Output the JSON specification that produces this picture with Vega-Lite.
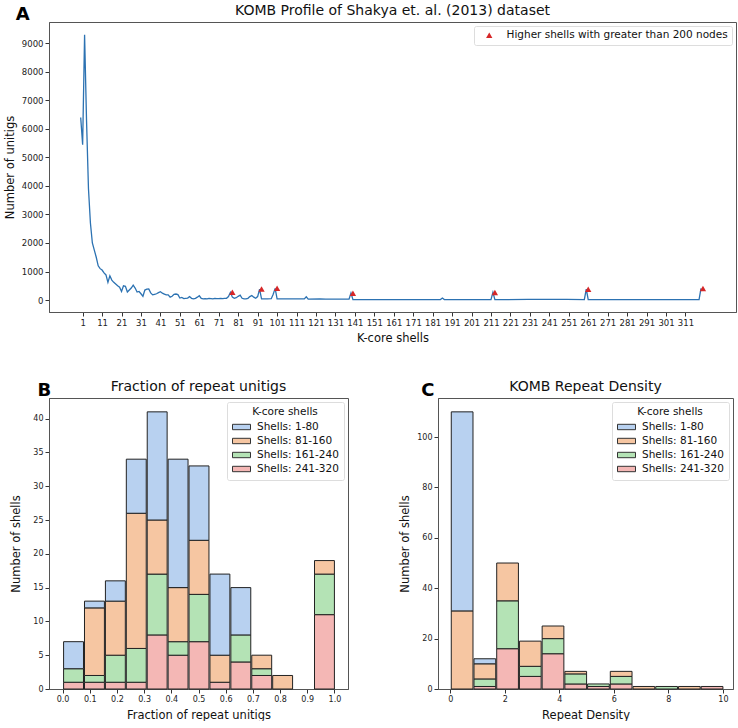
{
  "$schema": "https://vega.github.io/schema/vega-lite/v6.json",
  "padding": {"left": 3, "top": 3, "right": 0, "bottom": 0},
  "config": {
    "font": "DejaVu Sans",
    "view": {"stroke": "#555", "strokeWidth": 1},
    "axis": {"grid": false, "domainColor": "#555", "tickColor": "#333", "tickSize": 4, "labelColor": "#222", "titleColor": "#111", "labelFontSize": 8.5, "titleFontSize": 11.5, "titleFontWeight": "normal", "labelPadding": 2, "titlePadding": 6, "labelOverlap": false},
    "title": {"fontSize": 14, "fontWeight": "normal", "color": "#111"}
  },
  "resolve": {"scale": {"color": "independent", "x": "independent", "y": "independent"}, "legend": {"color": "independent"}},
  "datasets": {
    "line": [
      {"shell": 0, "unitigs": 6400}, {"shell": 1, "unitigs": 5450}, {"shell": 2, "unitigs": 9300}, {"shell": 3, "unitigs": 6300},
      {"shell": 4, "unitigs": 3900}, {"shell": 5, "unitigs": 2700}, {"shell": 6, "unitigs": 2000}, {"shell": 7, "unitigs": 1750},
      {"shell": 8, "unitigs": 1500}, {"shell": 9, "unitigs": 1200}, {"shell": 10, "unitigs": 1100}, {"shell": 11, "unitigs": 1050},
      {"shell": 12, "unitigs": 950}, {"shell": 13, "unitigs": 880}, {"shell": 14, "unitigs": 620}, {"shell": 15, "unitigs": 850},
      {"shell": 16, "unitigs": 700}, {"shell": 17, "unitigs": 620}, {"shell": 18, "unitigs": 560}, {"shell": 19, "unitigs": 500},
      {"shell": 20, "unitigs": 450}, {"shell": 21, "unitigs": 300}, {"shell": 22, "unitigs": 500}, {"shell": 23, "unitigs": 480},
      {"shell": 24, "unitigs": 280}, {"shell": 25, "unitigs": 350}, {"shell": 26, "unitigs": 420}, {"shell": 27, "unitigs": 520},
      {"shell": 28, "unitigs": 420}, {"shell": 29, "unitigs": 280}, {"shell": 30, "unitigs": 300}, {"shell": 31, "unitigs": 220},
      {"shell": 32, "unitigs": 130}, {"shell": 33, "unitigs": 350}, {"shell": 34, "unitigs": 380}, {"shell": 35, "unitigs": 390},
      {"shell": 36, "unitigs": 250}, {"shell": 37, "unitigs": 180}, {"shell": 38, "unitigs": 200}, {"shell": 39, "unitigs": 220},
      {"shell": 40, "unitigs": 260}, {"shell": 41, "unitigs": 290}, {"shell": 42, "unitigs": 240}, {"shell": 43, "unitigs": 210},
      {"shell": 44, "unitigs": 180}, {"shell": 45, "unitigs": 180}, {"shell": 46, "unitigs": 100}, {"shell": 47, "unitigs": 130},
      {"shell": 48, "unitigs": 200}, {"shell": 49, "unitigs": 210}, {"shell": 50, "unitigs": 190}, {"shell": 51, "unitigs": 70},
      {"shell": 52, "unitigs": 90}, {"shell": 53, "unitigs": 50}, {"shell": 54, "unitigs": 60}, {"shell": 55, "unitigs": 70},
      {"shell": 56, "unitigs": 120}, {"shell": 57, "unitigs": 60}, {"shell": 58, "unitigs": 40}, {"shell": 59, "unitigs": 60},
      {"shell": 60, "unitigs": 100}, {"shell": 61, "unitigs": 150}, {"shell": 62, "unitigs": 60}, {"shell": 63, "unitigs": 40},
      {"shell": 64, "unitigs": 50}, {"shell": 65, "unitigs": 40}, {"shell": 66, "unitigs": 60}, {"shell": 67, "unitigs": 50},
      {"shell": 68, "unitigs": 40}, {"shell": 69, "unitigs": 60}, {"shell": 70, "unitigs": 50}, {"shell": 71, "unitigs": 50},
      {"shell": 72, "unitigs": 60}, {"shell": 73, "unitigs": 50}, {"shell": 74, "unitigs": 60}, {"shell": 75, "unitigs": 60},
      {"shell": 76, "unitigs": 120}, {"shell": 77, "unitigs": 270}, {"shell": 78, "unitigs": 100}, {"shell": 79, "unitigs": 60},
      {"shell": 80, "unitigs": 80}, {"shell": 81, "unitigs": 130}, {"shell": 82, "unitigs": 170}, {"shell": 83, "unitigs": 60},
      {"shell": 84, "unitigs": 40}, {"shell": 85, "unitigs": 40}, {"shell": 86, "unitigs": 60}, {"shell": 87, "unitigs": 120},
      {"shell": 88, "unitigs": 160}, {"shell": 89, "unitigs": 100}, {"shell": 90, "unitigs": 60}, {"shell": 91, "unitigs": 120},
      {"shell": 92, "unitigs": 385}, {"shell": 93, "unitigs": 40}, {"shell": 96, "unitigs": 40}, {"shell": 98, "unitigs": 45},
      {"shell": 99, "unitigs": 200}, {"shell": 100, "unitigs": 410}, {"shell": 101, "unitigs": 40}, {"shell": 108, "unitigs": 40},
      {"shell": 115, "unitigs": 40}, {"shell": 116, "unitigs": 115}, {"shell": 117, "unitigs": 30}, {"shell": 123, "unitigs": 40},
      {"shell": 126, "unitigs": 30}, {"shell": 130, "unitigs": 35}, {"shell": 138, "unitigs": 30}, {"shell": 139, "unitigs": 245},
      {"shell": 140, "unitigs": 15}, {"shell": 160, "unitigs": 15}, {"shell": 185, "unitigs": 15}, {"shell": 186, "unitigs": 70},
      {"shell": 187, "unitigs": 15}, {"shell": 211, "unitigs": 15}, {"shell": 212, "unitigs": 270}, {"shell": 213, "unitigs": 15},
      {"shell": 230, "unitigs": 20}, {"shell": 250, "unitigs": 20}, {"shell": 259, "unitigs": 15}, {"shell": 260, "unitigs": 385},
      {"shell": 261, "unitigs": 15}, {"shell": 290, "unitigs": 15}, {"shell": 318, "unitigs": 15}, {"shell": 319, "unitigs": 410}
    ],
    "markers": [
      {"shell": 78, "unitigs": 270, "label": "Higher shells with greater than 200 nodes"},
      {"shell": 93, "unitigs": 385, "label": "Higher shells with greater than 200 nodes"},
      {"shell": 101, "unitigs": 410, "label": "Higher shells with greater than 200 nodes"},
      {"shell": 140, "unitigs": 240, "label": "Higher shells with greater than 200 nodes"},
      {"shell": 213, "unitigs": 265, "label": "Higher shells with greater than 200 nodes"},
      {"shell": 261, "unitigs": 380, "label": "Higher shells with greater than 200 nodes"},
      {"shell": 320, "unitigs": 405, "label": "Higher shells with greater than 200 nodes"}
    ],
    "fracB": [
      {"lo": 0.0, "hi": 0.076923, "group": "Shells: 241-320", "shellStart": 241, "count": 1},
      {"lo": 0.0, "hi": 0.076923, "group": "Shells: 161-240", "shellStart": 161, "count": 2},
      {"lo": 0.0, "hi": 0.076923, "group": "Shells: 1-80", "shellStart": 1, "count": 4},
      {"lo": 0.076923, "hi": 0.153846, "group": "Shells: 241-320", "shellStart": 241, "count": 1},
      {"lo": 0.076923, "hi": 0.153846, "group": "Shells: 161-240", "shellStart": 161, "count": 1},
      {"lo": 0.076923, "hi": 0.153846, "group": "Shells: 81-160", "shellStart": 81, "count": 10},
      {"lo": 0.076923, "hi": 0.153846, "group": "Shells: 1-80", "shellStart": 1, "count": 1},
      {"lo": 0.153846, "hi": 0.230769, "group": "Shells: 241-320", "shellStart": 241, "count": 1},
      {"lo": 0.153846, "hi": 0.230769, "group": "Shells: 161-240", "shellStart": 161, "count": 4},
      {"lo": 0.153846, "hi": 0.230769, "group": "Shells: 81-160", "shellStart": 81, "count": 8},
      {"lo": 0.153846, "hi": 0.230769, "group": "Shells: 1-80", "shellStart": 1, "count": 3},
      {"lo": 0.230769, "hi": 0.307692, "group": "Shells: 241-320", "shellStart": 241, "count": 1},
      {"lo": 0.230769, "hi": 0.307692, "group": "Shells: 161-240", "shellStart": 161, "count": 5},
      {"lo": 0.230769, "hi": 0.307692, "group": "Shells: 81-160", "shellStart": 81, "count": 20},
      {"lo": 0.230769, "hi": 0.307692, "group": "Shells: 1-80", "shellStart": 1, "count": 8},
      {"lo": 0.307692, "hi": 0.384615, "group": "Shells: 241-320", "shellStart": 241, "count": 8},
      {"lo": 0.307692, "hi": 0.384615, "group": "Shells: 161-240", "shellStart": 161, "count": 9},
      {"lo": 0.307692, "hi": 0.384615, "group": "Shells: 81-160", "shellStart": 81, "count": 8},
      {"lo": 0.307692, "hi": 0.384615, "group": "Shells: 1-80", "shellStart": 1, "count": 16},
      {"lo": 0.384615, "hi": 0.461538, "group": "Shells: 241-320", "shellStart": 241, "count": 5},
      {"lo": 0.384615, "hi": 0.461538, "group": "Shells: 161-240", "shellStart": 161, "count": 2},
      {"lo": 0.384615, "hi": 0.461538, "group": "Shells: 81-160", "shellStart": 81, "count": 8},
      {"lo": 0.384615, "hi": 0.461538, "group": "Shells: 1-80", "shellStart": 1, "count": 19},
      {"lo": 0.461538, "hi": 0.538462, "group": "Shells: 241-320", "shellStart": 241, "count": 7},
      {"lo": 0.461538, "hi": 0.538462, "group": "Shells: 161-240", "shellStart": 161, "count": 7},
      {"lo": 0.461538, "hi": 0.538462, "group": "Shells: 81-160", "shellStart": 81, "count": 8},
      {"lo": 0.461538, "hi": 0.538462, "group": "Shells: 1-80", "shellStart": 1, "count": 11},
      {"lo": 0.538462, "hi": 0.615385, "group": "Shells: 241-320", "shellStart": 241, "count": 1},
      {"lo": 0.538462, "hi": 0.615385, "group": "Shells: 81-160", "shellStart": 81, "count": 4},
      {"lo": 0.538462, "hi": 0.615385, "group": "Shells: 1-80", "shellStart": 1, "count": 12},
      {"lo": 0.615385, "hi": 0.692308, "group": "Shells: 241-320", "shellStart": 241, "count": 4},
      {"lo": 0.615385, "hi": 0.692308, "group": "Shells: 161-240", "shellStart": 161, "count": 4},
      {"lo": 0.615385, "hi": 0.692308, "group": "Shells: 1-80", "shellStart": 1, "count": 7},
      {"lo": 0.692308, "hi": 0.769231, "group": "Shells: 241-320", "shellStart": 241, "count": 2},
      {"lo": 0.692308, "hi": 0.769231, "group": "Shells: 161-240", "shellStart": 161, "count": 1},
      {"lo": 0.692308, "hi": 0.769231, "group": "Shells: 81-160", "shellStart": 81, "count": 2},
      {"lo": 0.769231, "hi": 0.846154, "group": "Shells: 81-160", "shellStart": 81, "count": 2},
      {"lo": 0.923077, "hi": 1.0, "group": "Shells: 241-320", "shellStart": 241, "count": 11},
      {"lo": 0.923077, "hi": 1.0, "group": "Shells: 161-240", "shellStart": 161, "count": 6},
      {"lo": 0.923077, "hi": 1.0, "group": "Shells: 81-160", "shellStart": 81, "count": 2}
    ],
    "densC": [
      {"lo": 0.0, "hi": 0.833333, "group": "Shells: 81-160", "shellStart": 81, "count": 31},
      {"lo": 0.0, "hi": 0.833333, "group": "Shells: 1-80", "shellStart": 1, "count": 79},
      {"lo": 0.833333, "hi": 1.666667, "group": "Shells: 241-320", "shellStart": 241, "count": 1},
      {"lo": 0.833333, "hi": 1.666667, "group": "Shells: 161-240", "shellStart": 161, "count": 3},
      {"lo": 0.833333, "hi": 1.666667, "group": "Shells: 81-160", "shellStart": 81, "count": 6},
      {"lo": 0.833333, "hi": 1.666667, "group": "Shells: 1-80", "shellStart": 1, "count": 2},
      {"lo": 1.666667, "hi": 2.5, "group": "Shells: 241-320", "shellStart": 241, "count": 16},
      {"lo": 1.666667, "hi": 2.5, "group": "Shells: 161-240", "shellStart": 161, "count": 19},
      {"lo": 1.666667, "hi": 2.5, "group": "Shells: 81-160", "shellStart": 81, "count": 15},
      {"lo": 2.5, "hi": 3.333333, "group": "Shells: 241-320", "shellStart": 241, "count": 5},
      {"lo": 2.5, "hi": 3.333333, "group": "Shells: 161-240", "shellStart": 161, "count": 4},
      {"lo": 2.5, "hi": 3.333333, "group": "Shells: 81-160", "shellStart": 81, "count": 10},
      {"lo": 3.333333, "hi": 4.166667, "group": "Shells: 241-320", "shellStart": 241, "count": 14},
      {"lo": 3.333333, "hi": 4.166667, "group": "Shells: 161-240", "shellStart": 161, "count": 6},
      {"lo": 3.333333, "hi": 4.166667, "group": "Shells: 81-160", "shellStart": 81, "count": 5},
      {"lo": 4.166667, "hi": 5.0, "group": "Shells: 241-320", "shellStart": 241, "count": 2},
      {"lo": 4.166667, "hi": 5.0, "group": "Shells: 161-240", "shellStart": 161, "count": 4},
      {"lo": 4.166667, "hi": 5.0, "group": "Shells: 81-160", "shellStart": 81, "count": 1},
      {"lo": 5.0, "hi": 5.833333, "group": "Shells: 241-320", "shellStart": 241, "count": 1},
      {"lo": 5.0, "hi": 5.833333, "group": "Shells: 161-240", "shellStart": 161, "count": 1},
      {"lo": 5.833333, "hi": 6.666667, "group": "Shells: 241-320", "shellStart": 241, "count": 2},
      {"lo": 5.833333, "hi": 6.666667, "group": "Shells: 161-240", "shellStart": 161, "count": 3},
      {"lo": 5.833333, "hi": 6.666667, "group": "Shells: 81-160", "shellStart": 81, "count": 2},
      {"lo": 6.666667, "hi": 7.5, "group": "Shells: 81-160", "shellStart": 81, "count": 1},
      {"lo": 7.5, "hi": 8.333333, "group": "Shells: 161-240", "shellStart": 161, "count": 1},
      {"lo": 8.333333, "hi": 9.166667, "group": "Shells: 81-160", "shellStart": 81, "count": 1},
      {"lo": 9.166667, "hi": 10.0, "group": "Shells: 241-320", "shellStart": 241, "count": 1}
    ]
  },
  "spacing": 34,
  "vconcat": [
    {
      "title": {"text": "A", "anchor": "start", "frame": "bounds", "fontSize": 18, "fontWeight": "bold", "color": "#000", "dx": 12, "dy": 20, "offset": 0},
      "resolve": {"scale": {"color": "independent"}, "legend": {"color": "independent"}},
      "vconcat": [
        {
          "title": {"text": "KOMB Profile of Shakya et. al. (2013) dataset", "offset": 4},
          "width": 687,
          "height": 290,
          "layer": [
            {
              "data": {"name": "line"},
              "mark": {"type": "line", "color": "#2c72b2", "strokeWidth": 1.3},
              "encoding": {
                "x": {"field": "shell", "type": "quantitative", "scale": {"domain": [-16.3, 337], "nice": false, "zero": false},
                      "axis": {"values": [1, 11, 21, 31, 41, 51, 61, 71, 81, 91, 101, 111, 121, 131, 141, 151, 161, 171, 181, 191, 201, 211, 221, 231, 241, 251, 261, 271, 281, 291, 301, 311], "tickCount": 100, "title": "K-core shells", "labelFlush": false, "labelOverlap": false, "format": "d"}},
                "y": {"field": "unitigs", "type": "quantitative", "scale": {"domain": [-420, 9750], "nice": false, "zero": false},
                      "axis": {"values": [0, 1000, 2000, 3000, 4000, 5000, 6000, 7000, 8000, 9000], "tickCount": 100, "labelOverlap": false, "title": "Number of unitigs", "format": "d", "titlePadding": 6}}
              }
            },
            {
              "data": {"name": "markers"},
              "mark": {"type": "point", "shape": "triangle-up", "filled": true, "size": 40, "opacity": 1},
              "encoding": {
                "x": {"field": "shell", "type": "quantitative"},
                "y": {"field": "unitigs", "type": "quantitative"},
                "color": {"field": "label", "type": "nominal", "scale": {"range": ["#d62728"]},
                          "legend": {"title": null, "orient": "top-right", "offset": 4, "fillColor": "#fff", "strokeColor": "#ddd", "cornerRadius": 2, "padding": 4, "labelFontSize": 10.5, "labelColor": "#111", "symbolSize": 40, "symbolOffset": 6, "labelOffset": 12, "labelLimit": 400}}
              }
            }
          ]
        }
      ]
    },
    {
      "spacing": 50,
      "resolve": {"scale": {"color": "independent", "x": "independent", "y": "independent"}, "legend": {"color": "independent"}},
      "hconcat": [
        {
          "title": {"text": "B", "anchor": "start", "frame": "bounds", "fontSize": 18, "fontWeight": "bold", "color": "#000", "dx": 28, "dy": 20, "offset": 0},
          "resolve": {"scale": {"color": "independent"}, "legend": {"color": "independent"}},
          "vconcat": [
            {
              "title": {"text": "Fraction of repeat unitigs", "offset": 4},
              "width": 299,
              "height": 291,
              "data": {"name": "fracB"},
              "mark": {"type": "bar", "stroke": "#222", "strokeWidth": 1, "opacity": 1},
              "encoding": {
                "x": {"field": "lo", "type": "quantitative", "bin": {"binned": true}, "scale": {"domain": [-0.05, 1.05], "nice": false, "zero": false},
                      "axis": {"values": [0, 0.1, 0.2, 0.3, 0.4, 0.5, 0.6, 0.7, 0.8, 0.9, 1.0], "tickCount": 100, "format": ".1f", "title": "Fraction of repeat unitigs", "labelFontSize": 8}},
                "x2": {"field": "hi"},
                "y": {"field": "count", "type": "quantitative", "stack": "zero", "scale": {"domain": [0, 43.05], "nice": false},
                      "axis": {"values": [0, 5, 10, 15, 20, 25, 30, 35, 40], "tickCount": 100, "format": "d", "title": "Number of shells", "labelFontSize": 8, "minExtent": 22}},
                "color": {"field": "group", "type": "nominal",
                          "scale": {"domain": ["Shells: 1-80", "Shells: 81-160", "Shells: 161-240", "Shells: 241-320"], "range": ["#b8d1f0", "#f6c6a2", "#b4e3b5", "#f4b7b5"]},
                          "legend": {"title": "K-core shells", "orient": "top-right", "offset": 4, "titleAnchor": "middle", "titleFontWeight": "normal", "titleFontSize": 10.5, "titleColor": "#111", "titlePadding": 3, "labelFontSize": 10.5, "labelColor": "#111", "labelOffset": 9, "fillColor": "#fff", "strokeColor": "#ddd", "cornerRadius": 2, "padding": 5, "rowPadding": 2, "symbolType": "M-1.5,-0.45H1.5V0.45H-1.5Z", "symbolSize": 144, "symbolOffset": 3, "symbolStrokeColor": "#333", "symbolStrokeWidth": 1, "symbolOpacity": 1}},
                "order": {"field": "shellStart", "type": "quantitative", "sort": "descending"}
              }
            }
          ]
        },
        {
          "title": {"text": "C", "anchor": "start", "frame": "bounds", "fontSize": 18, "fontWeight": "bold", "color": "#000", "dx": 22, "dy": 20, "offset": 0},
          "resolve": {"scale": {"color": "independent"}, "legend": {"color": "independent"}},
          "vconcat": [
            {
              "title": {"text": "KOMB Repeat Density", "offset": 4},
              "width": 295,
              "height": 291,
              "data": {"name": "densC"},
              "mark": {"type": "bar", "stroke": "#222", "strokeWidth": 1, "opacity": 1},
              "encoding": {
                "x": {"field": "lo", "type": "quantitative", "bin": {"binned": true}, "scale": {"domain": [-0.45, 10.37], "nice": false, "zero": false},
                      "axis": {"values": [0, 2, 4, 6, 8, 10], "tickCount": 100, "format": "d", "title": "Repeat Density", "labelFontSize": 8}},
                "x2": {"field": "hi"},
                "y": {"field": "count", "type": "quantitative", "stack": "zero", "scale": {"domain": [0, 115.5], "nice": false},
                      "axis": {"values": [0, 20, 40, 60, 80, 100], "tickCount": 100, "format": "d", "title": "Number of shells", "labelFontSize": 8}},
                "color": {"field": "group", "type": "nominal",
                          "scale": {"domain": ["Shells: 1-80", "Shells: 81-160", "Shells: 161-240", "Shells: 241-320"], "range": ["#b8d1f0", "#f6c6a2", "#b4e3b5", "#f4b7b5"]},
                          "legend": {"title": "K-core shells", "orient": "top-right", "offset": 4, "titleAnchor": "middle", "titleFontWeight": "normal", "titleFontSize": 10.5, "titleColor": "#111", "titlePadding": 3, "labelFontSize": 10.5, "labelColor": "#111", "labelOffset": 9, "fillColor": "#fff", "strokeColor": "#ddd", "cornerRadius": 2, "padding": 5, "rowPadding": 2, "symbolType": "M-1.5,-0.45H1.5V0.45H-1.5Z", "symbolSize": 144, "symbolOffset": 3, "symbolStrokeColor": "#333", "symbolStrokeWidth": 1, "symbolOpacity": 1}},
                "order": {"field": "shellStart", "type": "quantitative", "sort": "descending"}
              }
            }
          ]
        }
      ]
    }
  ]
}
